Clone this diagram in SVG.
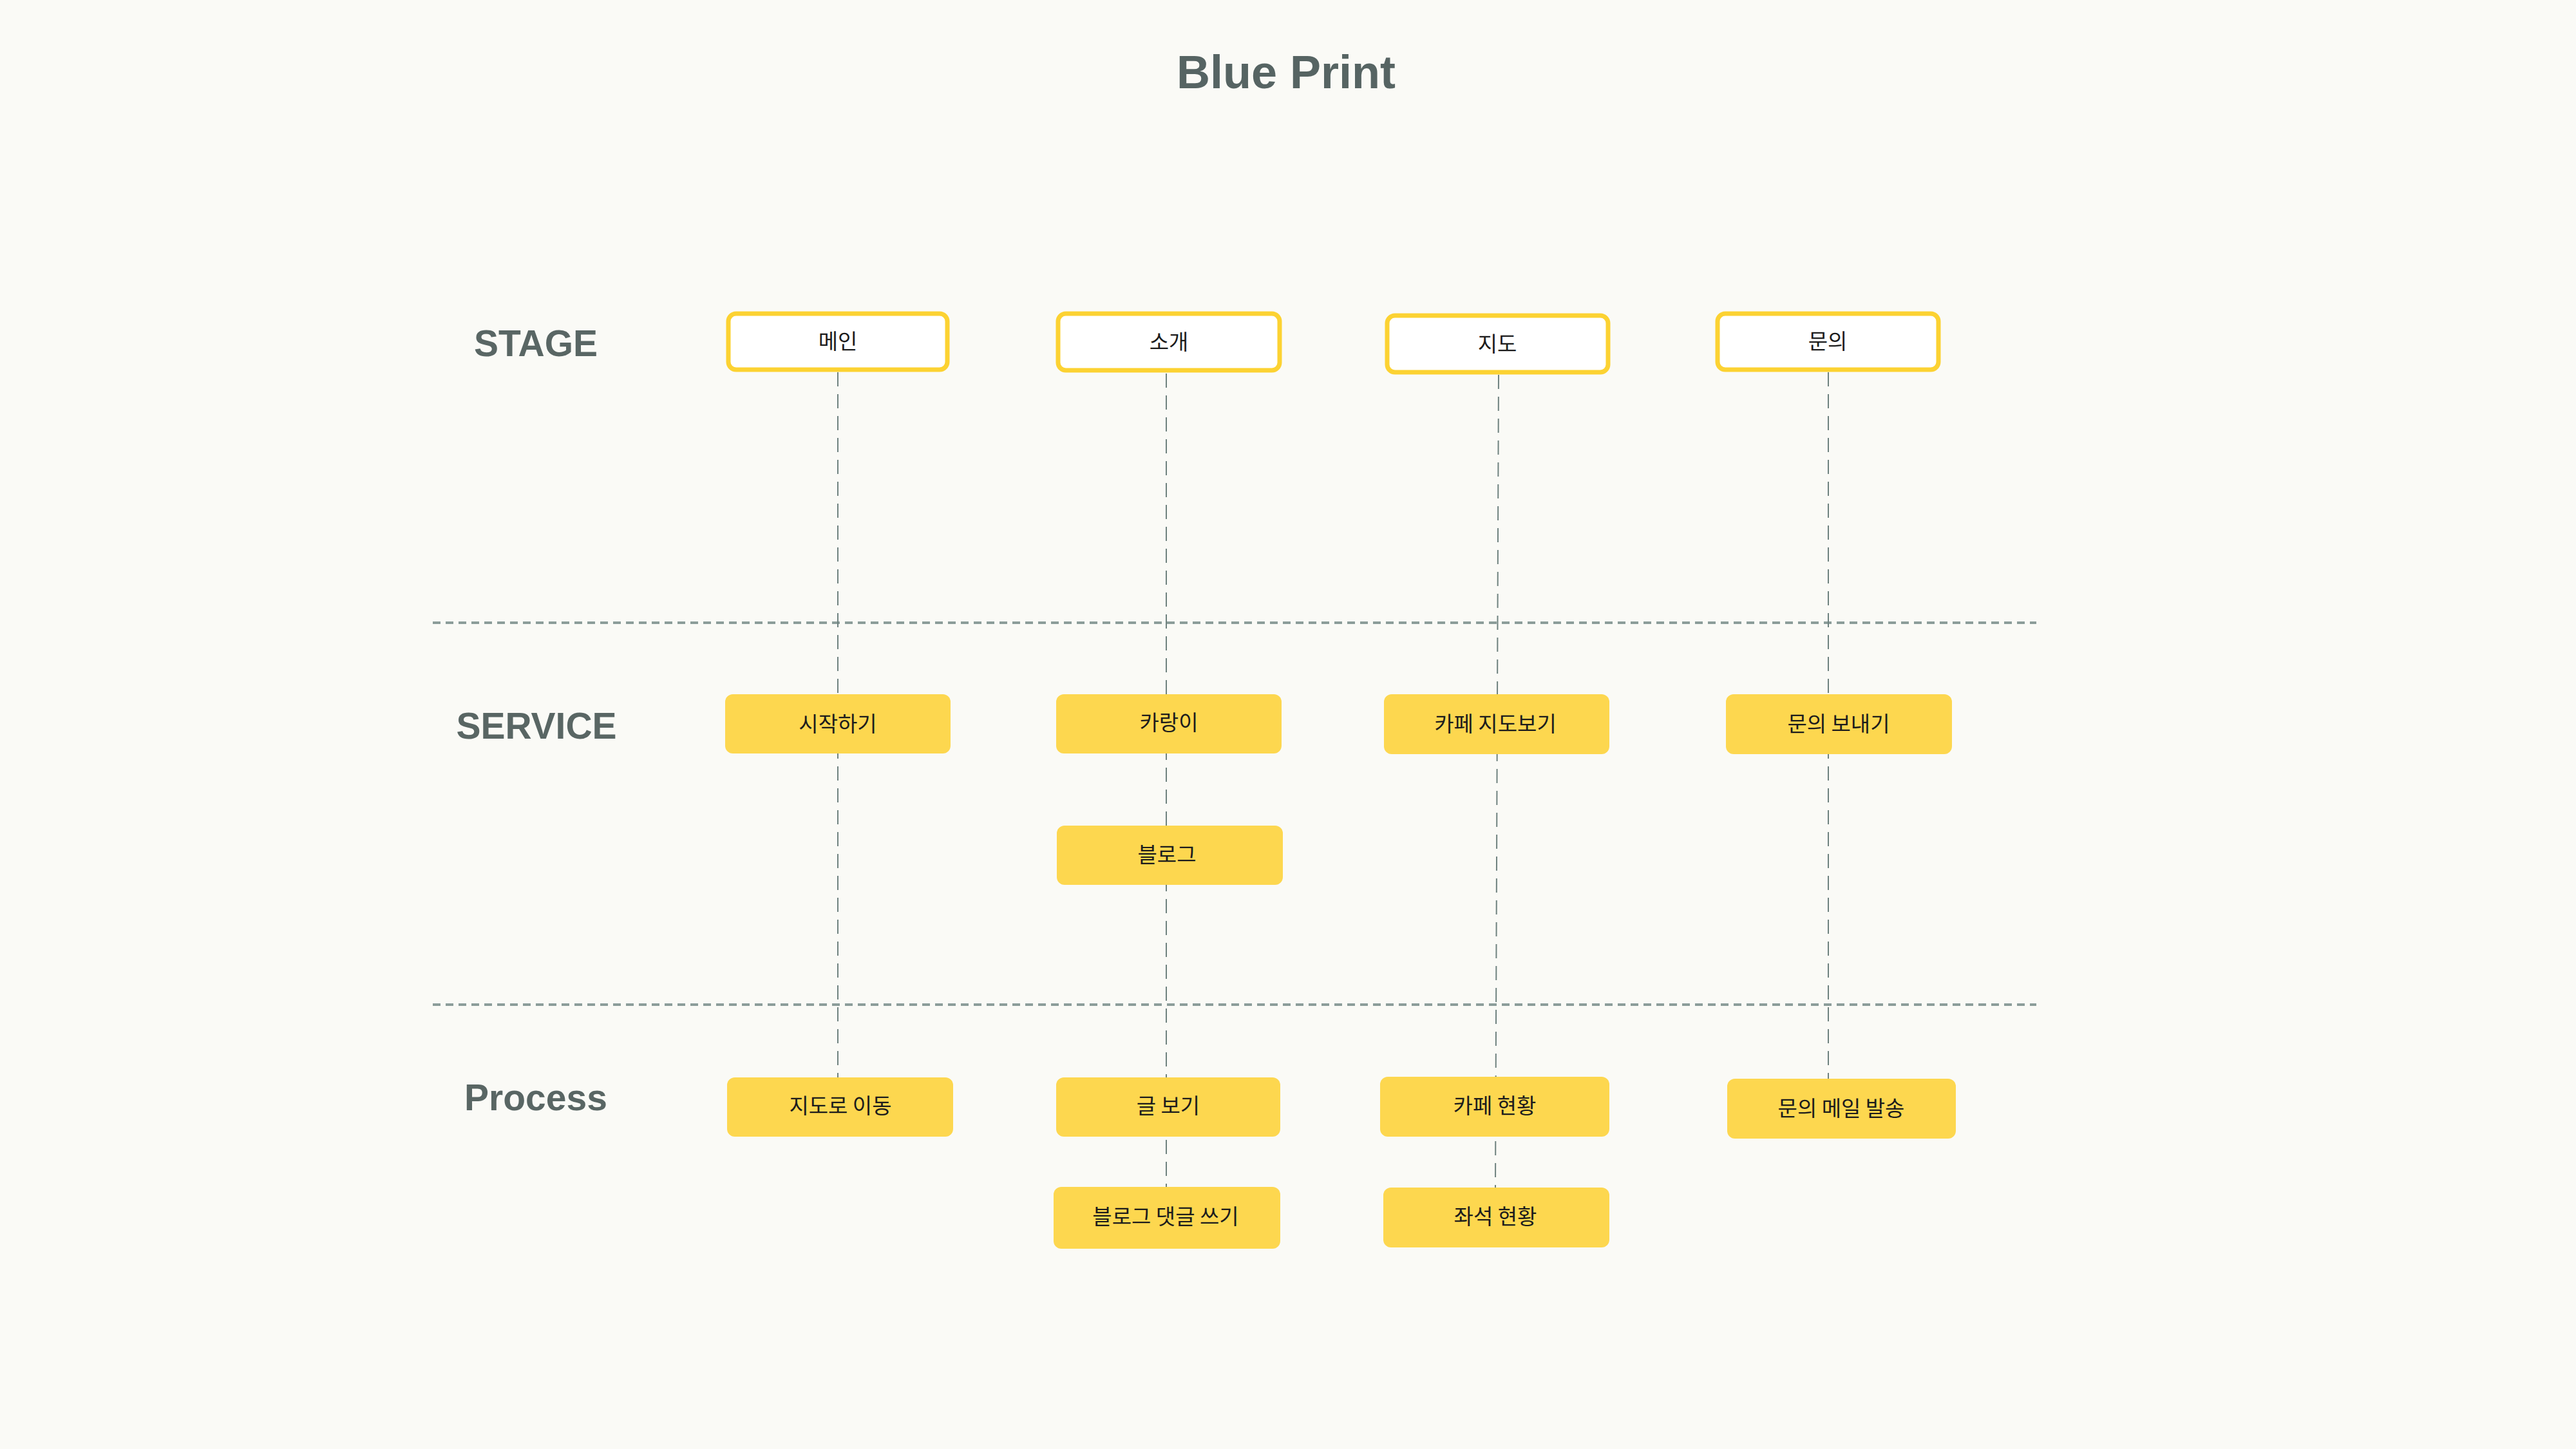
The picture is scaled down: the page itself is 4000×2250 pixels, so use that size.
<svg xmlns="http://www.w3.org/2000/svg" width="4000" height="2250" viewBox="0 0 4000 2250">
  <style>
    .title { font-family: "Liberation Sans", Arial, sans-serif; font-weight: bold; fill: #566463; }
    .lane { font-family: "Liberation Sans", Arial, sans-serif; font-weight: bold; font-size: 57px; fill: #596664; text-anchor: middle; }
    .stage rect { fill: #ffffff; stroke: #fcd232; stroke-width: 7; }
    .card rect { fill: #fdd74f; stroke: none; }
    .lbl { font-family: "Noto Sans CJK KR", "Noto Sans", sans-serif; font-size: 33px; fill: #1c1c1c; text-anchor: middle; }
    .hsep { stroke: #8c9d9a; stroke-width: 4; stroke-dasharray: 12 8; fill: none; }
    .vlink { stroke: #6f827f; stroke-width: 2; stroke-dasharray: 22 12; fill: none; }
  </style>
  <rect x="0" y="0" width="4000" height="2250" fill="#fafaf6"/>

  <text class="title" x="1997" y="137" font-size="72" text-anchor="middle">Blue Print</text>

  <g id="lane-labels">
    <text class="lane" x="832" y="553">STAGE</text>
    <text class="lane" x="833" y="1147">SERVICE</text>
    <text class="lane" x="832" y="1724">Process</text>
  </g>

  <g id="connectors">
    <line class="hsep" x1="672" y1="967" x2="3162" y2="967"/>
    <line class="hsep" x1="672" y1="1560" x2="3162" y2="1560"/>
    <line class="vlink" x1="1301" y1="578" x2="1301" y2="1673"/>
    <line class="vlink" x1="1811" y1="580" x2="1811" y2="1843"/>
    <line class="vlink" x1="2327" y1="582" x2="2322" y2="1844"/>
    <line class="vlink" x1="2839" y1="578" x2="2839" y2="1675"/>
  </g>

  <g id="stage-main" class="stage">
    <rect x="1131" y="487" width="340" height="87" rx="12"/>
    <text class="lbl" x="1301" y="542">메인</text>
  </g>
  <g id="stage-intro" class="stage">
    <rect x="1643" y="487" width="344" height="88" rx="12"/>
    <text class="lbl" x="1815" y="543">소개</text>
  </g>
  <g id="stage-map" class="stage">
    <rect x="2154" y="490" width="343" height="88" rx="12"/>
    <text class="lbl" x="2325" y="546">지도</text>
  </g>
  <g id="stage-contact" class="stage">
    <rect x="2667" y="487" width="343" height="87" rx="12"/>
    <text class="lbl" x="2838" y="542">문의</text>
  </g>

  <g id="svc-start" class="card">
    <rect x="1126" y="1078" width="350" height="92" rx="12"/>
    <text class="lbl" x="1301" y="1136">시작하기</text>
  </g>
  <g id="svc-karang" class="card">
    <rect x="1640" y="1078" width="350" height="92" rx="12"/>
    <text class="lbl" x="1815" y="1134">카랑이</text>
  </g>
  <g id="svc-blog" class="card">
    <rect x="1641" y="1282" width="351" height="92" rx="12"/>
    <text class="lbl" x="1812" y="1339">블로그</text>
  </g>
  <g id="svc-cafemap" class="card">
    <rect x="2149" y="1078" width="350" height="93" rx="12"/>
    <text class="lbl" x="2322" y="1136">카페 지도보기</text>
  </g>
  <g id="svc-send" class="card">
    <rect x="2680" y="1078" width="351" height="93" rx="12"/>
    <text class="lbl" x="2855" y="1136">문의 보내기</text>
  </g>

  <g id="proc-move" class="card">
    <rect x="1129" y="1673" width="351" height="92" rx="12"/>
    <text class="lbl" x="1305" y="1729">지도로 이동</text>
  </g>
  <g id="proc-read" class="card">
    <rect x="1640" y="1673" width="348" height="92" rx="12"/>
    <text class="lbl" x="1814" y="1729">글 보기</text>
  </g>
  <g id="proc-comment" class="card">
    <rect x="1636" y="1843" width="352" height="96" rx="12"/>
    <text class="lbl" x="1810" y="1901">블로그 댓글 쓰기</text>
  </g>
  <g id="proc-cafe" class="card">
    <rect x="2143" y="1672" width="356" height="93" rx="12"/>
    <text class="lbl" x="2321" y="1729">카페 현황</text>
  </g>
  <g id="proc-mail" class="card">
    <rect x="2682" y="1675" width="355" height="93" rx="12"/>
    <text class="lbl" x="2859" y="1733">문의 메일 발송</text>
  </g>
  <g id="proc-seat" class="card">
    <rect x="2148" y="1844" width="351" height="93" rx="12"/>
    <text class="lbl" x="2322" y="1901">좌석 현황</text>
  </g>
</svg>
